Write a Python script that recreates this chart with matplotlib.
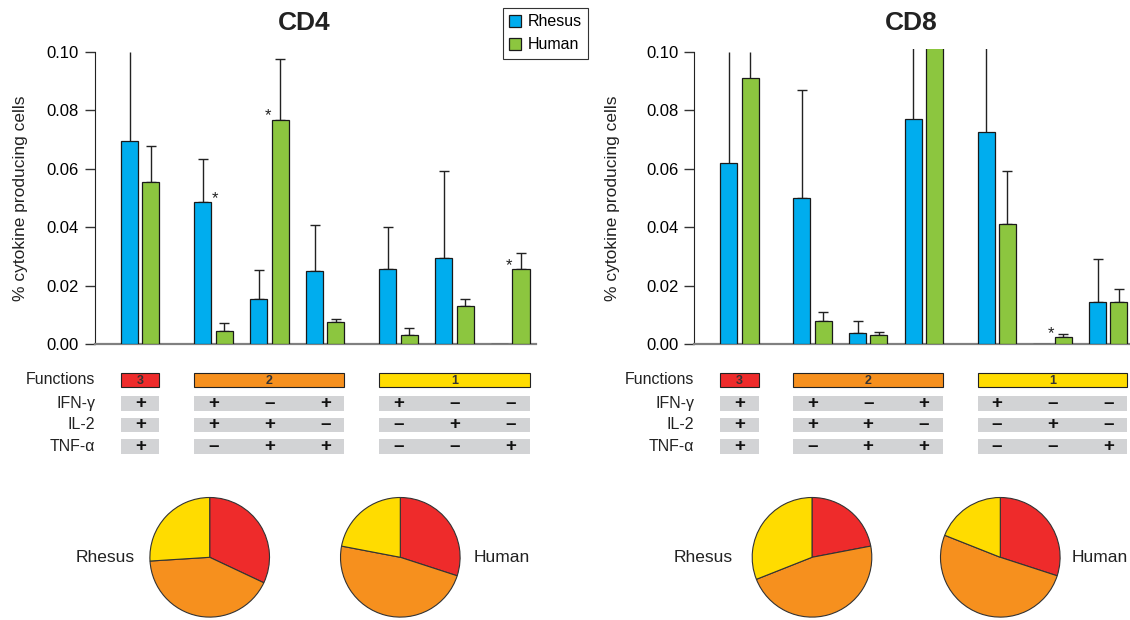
import numpy as np
import matplotlib.pyplot as plt
from matplotlib.patches import Patch, Rectangle

plt.rcParams['font.family'] = ['Liberation Sans', 'DejaVu Sans']

# cytokine combinations (IFN-g, IL-2, TNF-a), grouped by number of functions
combos = ['+++', '++-', '-++', '+-+', '+--', '-+-', '--+']
cytokines = ['IFN-γ', 'IL-2', 'TNF-α']
func_labels = ['3', '2', '1']
func_first = [0, 1, 4]
func_last = [0, 3, 6]

# % cytokine producing cells, bar height and top of error bar
cd4_rhesus = [0.0696, 0.0485, 0.0154, 0.0249, 0.0259, 0.0296, 0.0]
cd4_rhesus_top = [0.100, 0.0634, 0.0254, 0.0409, 0.0402, 0.0593, np.nan]
cd4_human = [0.0554, 0.0044, 0.0768, 0.0075, 0.0033, 0.0131, 0.0256]
cd4_human_top = [0.0677, 0.0072, 0.0977, 0.0085, 0.0056, 0.0155, 0.0313]

cd8_rhesus = [0.0619, 0.0501, 0.0039, 0.0769, 0.0726, 0.0, 0.0145]
cd8_rhesus_top = [0.100, 0.0871, 0.0080, 0.12, 0.12, np.nan, 0.0293]
cd8_human = [0.0910, 0.0079, 0.0031, 0.105, 0.0412, 0.0024, 0.0144]
cd8_human_top = [0.100, 0.0109, 0.0041, 0.13, 0.0591, 0.0034, 0.0188]

# significant differences (series, column)
cd4_sig = [('Rhesus', 1), ('Human', 2), ('Human', 6)]
cd8_sig = [('Human', 5)]

# pie fractions: 3, 2, 1 functions
cd4_pie_rhesus = [0.32, 0.42, 0.26]
cd4_pie_human = [0.30, 0.48, 0.22]
cd8_pie_rhesus = [0.22, 0.47, 0.31]
cd8_pie_human = [0.30, 0.51, 0.19]

blue = '#00ADEE'
green = '#8CC63F'
func_colors = ['#EE2B2B', '#F6901E', '#FFDC00']
gray = '#D2D3D5'

W, H = 1130, 620
fig = plt.figure(figsize=(W / 100, H / 100), dpi=100)

# x positions: one unit per combo, extra gap between function groups
group_of = [0, 1, 1, 1, 2, 2, 2]
xs = np.array([i + 0.31 * g for i, g in enumerate(group_of)])
bw = 0.305
off = 0.19

panels = [
    dict(title='CD4', left=95, right=535.7, xmin=-0.810, xmax=7.073, title_x=304, ylab_x=20.5,
         rh=cd4_rhesus, rh_top=cd4_rhesus_top, hu=cd4_human, hu_top=cd4_human_top, sig=cd4_sig,
         pies=[(209.7, cd4_pie_rhesus, 'Rhesus', 134.7), (400.3, cd4_pie_human, 'Human', 473.3)]),
    dict(title='CD8', left=694.3, right=1130, xmin=-0.811, xmax=7.01, title_x=911, ylab_x=613,
         rh=cd8_rhesus, rh_top=cd8_rhesus_top, hu=cd8_human, hu_top=cd8_human_top, sig=cd8_sig,
         pies=[(812.0, cd8_pie_rhesus, 'Rhesus', 733), (1000.3, cd8_pie_human, 'Human', 1071.7)]),
]

y0_px, y10_px = 344.3, 51.8
ytop = 0.1011
top_px = y0_px - (y0_px - y10_px) * ytop / 0.1

for p in panels:
    ax = fig.add_axes([p['left'] / W, 1 - y0_px / H, (p['right'] - p['left']) / W, (y0_px - top_px) / H])
    for vals, tops, dx, col in [(p['rh'], p['rh_top'], -off, blue), (p['hu'], p['hu_top'], off, green)]:
        ax.bar(xs + dx, vals, width=bw, color=col, edgecolor='#1a1a1a', linewidth=0.9, zorder=3)
        for x, v, t in zip(xs + dx, vals, tops):
            if np.isnan(t):
                continue
            cap = 0 if t >= 0.1 else 3.6
            ax.errorbar(x, v, yerr=[[0], [t - v]], fmt='none', ecolor='#222222',
                        elinewidth=1.0, capsize=cap, capthick=1.0, zorder=2)
    for series, i in p['sig']:
        if series == 'Rhesus':
            x = xs[i] - off + bw / 2 + 0.07
            v = p['rh'][i]
        else:
            x = xs[i] + off - bw / 2 - 0.07
            v = p['hu'][i]
        ax.text(x, v - 0.0013, '*', ha='center', va='bottom', fontsize=12, color='#222222')
    ax.set_xlim(p['xmin'], p['xmax'])
    ax.set_ylim(0, ytop)
    ax.set_yticks(np.arange(0, 0.101, 0.02))
    ax.set_yticklabels(['%.2f' % t for t in np.arange(0, 0.101, 0.02)], fontsize=12)
    ax.set_xticks([])
    ax.tick_params(axis='y', direction='out', length=7, width=1, pad=4.5, color='#333333')
    for s in ['top', 'right']:
        ax.spines[s].set_visible(False)
    ax.spines['left'].set_bounds(0, 0.1)
    ax.spines['left'].set_color('#222222')
    ax.spines['bottom'].set_color('#808080')
    ax.spines['bottom'].set_linewidth(1.6)
    fig.text(p['ylab_x'] / W, 1 - 198 / H, '% cytokine producing cells', rotation=90,
             ha='center', va='center', fontsize=12.5, color='#222222')
    fig.text(p['title_x'] / W, 1 - 23.3 / H, p['title'], ha='center', va='center',
             fontsize=19, fontweight='bold', color='#222222')

    # function / cytokine table
    tx = fig.add_axes([p['left'] / W, 1 - 460 / H, (p['right'] - p['left']) / W, 100 / H])
    tx.set_xlim(p['xmin'], p['xmax'])
    tx.set_ylim(460, 360)
    tx.axis('off')
    half = off + bw / 2
    for lab, a, b, c in zip(func_labels, func_first, func_last, func_colors):
        tx.add_patch(Rectangle((xs[a] - half, 372.7), xs[b] - xs[a] + 2 * half, 14.6,
                               facecolor=c, edgecolor='#222222', linewidth=0.8))
        tx.text((xs[a] + xs[b]) / 2, 380.5, lab, ha='center', va='center', fontsize=9,
                fontweight='bold', color='#333333')
        for r in range(3):
            tx.add_patch(Rectangle((xs[a] - half, 396 + r * 21.5), xs[b] - xs[a] + 2 * half, 14.5,
                                   facecolor=gray, edgecolor='none'))
    tx.text(p['xmin'], 380, 'Functions', ha='right', va='center', fontsize=11.5, color='#222222')
    for r, cy in enumerate(cytokines):
        tx.text(p['xmin'], 403.3 + r * 21.5, cy, ha='right', va='center', fontsize=11.5, color='#222222')
        for i, cmb in enumerate(combos):
            sign = '+' if cmb[r] == '+' else '–'
            tx.text(xs[i], 403.3 + r * 21.5, sign, ha='center', va='center', fontsize=13.5,
                    fontweight='bold', color='#111111')

    # pies
    for cx, fr, name, lx in p['pies']:
        pa = fig.add_axes([(cx - 61) / W, 1 - (557.3 + 61) / H, 122 / W, 122 / H])
        pa.pie(fr, colors=func_colors, startangle=90, counterclock=False,
               wedgeprops=dict(edgecolor='#333333', linewidth=0.8))
        pa.set_xlim(-1.02, 1.02)
        pa.set_ylim(-1.02, 1.02)
        ha = 'right' if name == 'Rhesus' else 'left'
        fig.text(lx / W, 1 - 557 / H, name, ha=ha, va='center', fontsize=12.5, color='#222222')

handles = [Patch(facecolor=blue, edgecolor='#1a1a1a', linewidth=0.9, label='Rhesus'),
           Patch(facecolor=green, edgecolor='#1a1a1a', linewidth=0.9, label='Human')]
leg = fig.legend(handles=handles, loc='upper left', bbox_to_anchor=(502.5 / W, 1 - 8 / H),
                 fontsize=11.5, frameon=True, fancybox=False, edgecolor='#333333', framealpha=1,
                 handlelength=0.75, handleheight=0.75, handletextpad=0.4, borderpad=0.4,
                 labelspacing=0.5, borderaxespad=0)
leg.get_frame().set_linewidth(0.8)

fig.savefig('out.png', dpi=100)
